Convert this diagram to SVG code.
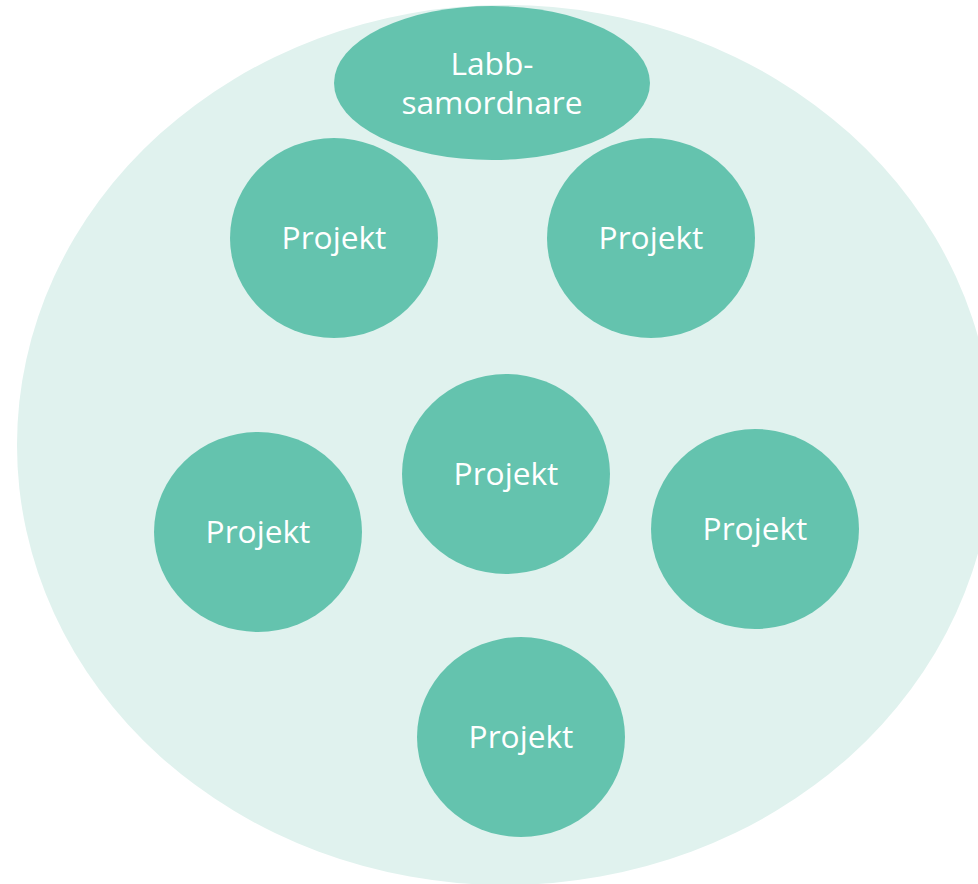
<svg xmlns="http://www.w3.org/2000/svg" width="978" height="884" viewBox="0 0 978 884">
<style>
.n{fill:#64C3AE}
.t{fill:#ffffff;font-family:"Open Sans","Noto Sans",sans-serif;font-size:31.7px;text-anchor:middle}
</style>
<rect width="978" height="884" fill="#ffffff"/>
<ellipse id="bg" cx="505" cy="445" rx="488" ry="440" fill="#E0F2EE"/>
<g id="connectors"></g>
<g id="labb"><ellipse class="n" cx="492" cy="83" rx="158" ry="77"/><text class="t" x="492" y="75">Labb-</text><text class="t" x="492" y="114">samordnare</text></g>
<g id="p1"><ellipse class="n" cx="334" cy="238" rx="104" ry="100"/><text class="t" x="334" y="249">Projekt</text></g>
<g id="p2"><ellipse class="n" cx="651" cy="238" rx="104" ry="100"/><text class="t" x="651" y="249">Projekt</text></g>
<g id="p3"><ellipse class="n" cx="506" cy="474" rx="104" ry="100"/><text class="t" x="506" y="485">Projekt</text></g>
<g id="p4"><ellipse class="n" cx="258" cy="532" rx="104" ry="100"/><text class="t" x="258" y="543">Projekt</text></g>
<g id="p5"><ellipse class="n" cx="755" cy="529" rx="104" ry="100"/><text class="t" x="755" y="540">Projekt</text></g>
<g id="p6"><ellipse class="n" cx="521" cy="737" rx="104" ry="100"/><text class="t" x="521" y="748">Projekt</text></g>
</svg>
